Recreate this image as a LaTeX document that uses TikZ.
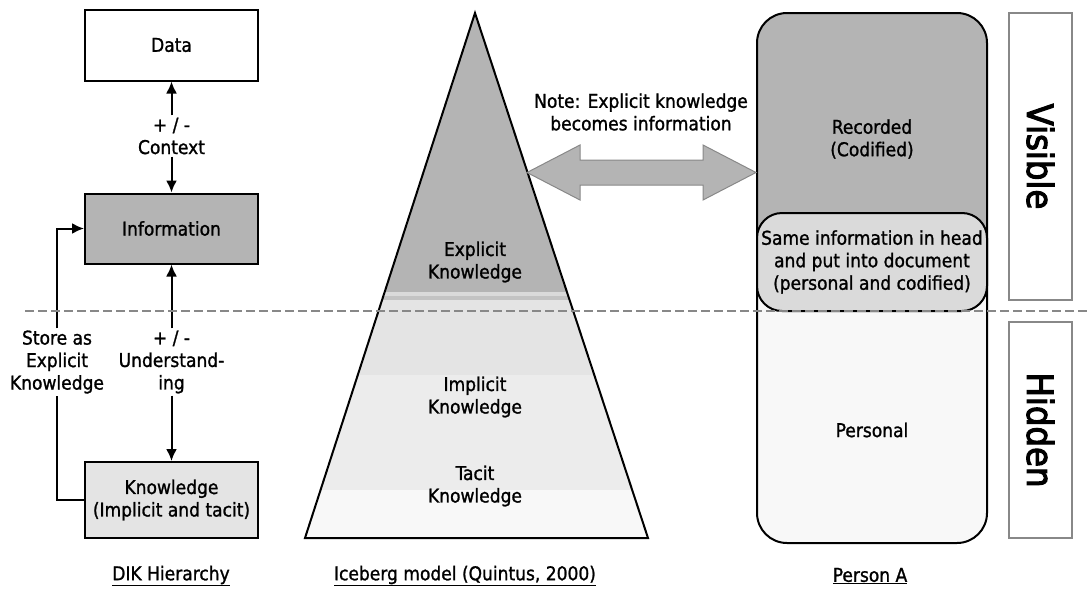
\documentclass[tikz,border=0pt]{standalone}
\usepackage{fontspec}
\setmainfont{DejaVu Sans Condensed}[FakeBold=1.2]
\newfontfamily\sidefont{DejaVu Sans Condensed}[FakeBold=3]
\usepackage{xcolor}
\usepackage{tikz}
\usetikzlibrary{arrows.meta, positioning, calc}
\definecolor{kmgray}{RGB}{180,180,180}
\definecolor{kmlight}{RGB}{228,228,228}
\definecolor{kmsame}{RGB}{218,218,218}
\definecolor{kmpale}{RGB}{248,248,248}
\definecolor{kmedge}{RGB}{136,136,136}

\tikzset{
  dikbox/.style={draw, line width=2pt, minimum width=173pt, align=center},
  txt/.style={align=center, inner sep=2pt},
  sidebox/.style={draw=kmedge, line width=2.5pt, rotate=-90, minimum height=63pt,
    font=\fontsize{36}{40}\sidefont},
  flow/.style={line width=2pt, -{Latex[length=12pt,width=11pt]}},
}

\begin{document}
\begin{tikzpicture}[x=1pt, y=-1pt, font=\fontsize{19}{22.5}\selectfont]
\useasboundingbox (0,0) rectangle (1087,589);

% DIK hierarchy
\node[dikbox, fill=white, minimum height=71pt] (data) at (171.5,45) {Data};
\node[dikbox, fill=kmgray, minimum height=70pt] (info) at (171.5,228.5) {Information};
\node[dikbox, fill=kmlight, minimum height=76pt] (know) at (171.5,500) {Knowledge\\(Implicit and tacit)};

\node[txt] (ctx) at (171.5,136) {+ / -\\Context};
\node[txt] (und) at (171.5,362) {+ / -\\Understand-\\ing};
\node[txt] (store) at (57,362) {Store as\\Explicit\\Knowledge};

\draw[flow] (ctx) -- (data);
\draw[flow] (ctx) -- (info);
\draw[flow] (und) -- (info);
\draw[flow] (und) -- (know);
\draw[line width=2pt] (know.west) -| (store.south);
\draw[flow] (store.north) |- (info.west);

\node (dikcap) at (171,576) {\underline{DIK Hierarchy}};

% Iceberg
\coordinate (apex) at (475,13);
\coordinate (bl) at (305,538);
\coordinate (br) at (648,538);
\begin{scope}
  \clip (apex) -- (br) -- (bl) -- cycle;
  \foreach \ya/\yb/\col in {13/292/kmgray, 292/296/kmsame, 296/300/kmgray!80,
      300/375/kmlight, 375/490/kmlight!70, 490/538/kmpale} {
    \fill[\col] (300,\ya) rectangle (655,\yb);
  }
\end{scope}
\draw[line width=2pt, line join=miter] (apex) -- (br) -- (bl) -- cycle;

\node[txt] (expl) at (475,262) {Explicit\\Knowledge};
\node[txt] (impl) at (475,397) {Implicit\\Knowledge};
\node[txt] (tacit) at (475,486) {Tacit\\Knowledge};

\node (icecap) at (465,576) {\underline{Iceberg model (Quintus, 2000)}};

% Person A
\node[draw, line width=2pt, rounded corners=30pt, fill=kmpale,
  minimum width=230pt, minimum height=530pt,
  path picture={\fill[kmgray] (path picture bounding box.north west)
    rectangle ([yshift=16pt]path picture bounding box.east);}] (person) at (872,278) {};
\node[draw, line width=2pt, rounded corners=25pt, fill=kmsame, align=center,
  minimum width=230pt, minimum height=98pt] (same) at (872,262)
  {Same information in head\\and put into document\\(personal and codified)};
\node[txt] (rec) at (872,139) {Recorded\\(Codified)};
\node[txt] (pers) at (872,430) {Personal};

\node (percap) at (870,576) {\underline{Person A}};

% note and double arrow
\node[txt] (note) at (641,112) {Note: Explicit knowledge\\becomes information};
\coordinate (tipL) at (527,172.5);
\coordinate (tipR) at (person.west |- tipL);
\draw[kmedge, fill=kmgray, line width=1pt, line join=miter] (tipL)
  -- ++(53,-27.5) -- ++(0,15) -- ($(tipR)+(-53,-12.5)$) -- ++(0,-15) -- (tipR)
  -- ++(-53,27.5) -- ++(0,-15) -- ($(tipL)+(53,12.5)$) -- ++(0,15) -- cycle;

% visible / hidden
\node[sidebox, minimum width=287pt] (vis) at (1040.5,156.5) {Visible};
\node[sidebox, minimum width=216pt] (hid) at (1040.5,430) {Hidden};

% water line
\draw[kmedge, line width=2.5pt, dash pattern=on 9pt off 4pt] (25,311) -- (1087,311);
\end{tikzpicture}
\end{document}
